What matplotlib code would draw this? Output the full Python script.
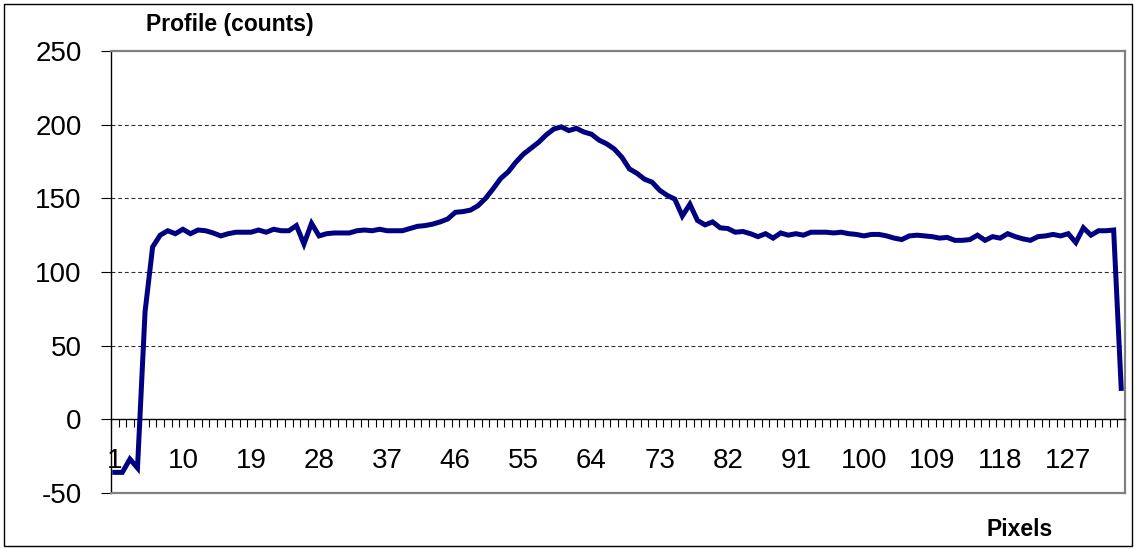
import numpy as np
import matplotlib
matplotlib.use("Agg")
import matplotlib.pyplot as plt
from matplotlib.patches import Rectangle

plt.rcParams['font.family'] = ['Liberation Sans', 'DejaVu Sans']

# ---- data ----
pixels = list(range(1, 135))
profile = [
    -36, -36, -27, -33, 73, 117, 125, 128, 126, 129,
    126, 128.5, 128, 126.5, 124.5, 126, 127, 127, 127, 128.5,
    127, 129, 128, 128, 131.5, 119, 133, 124.5, 126, 126.5,
    126.5, 126.5, 128, 128.5, 128, 129, 128, 128, 128, 129.5,
    131, 131.5, 132.5, 134, 136, 140.5, 141, 142, 145, 150,
    156.5, 163.5, 168, 174.5, 180, 184, 188, 193, 197, 198.5,
    196, 197.5, 195, 193.5, 189.5, 187, 183.5, 178, 170, 167,
    163, 161, 155.5, 152, 149.5, 138, 146, 135, 132, 134,
    130, 129.5, 127, 127.5, 126, 124, 126, 123, 126.5, 125,
    126, 125, 127, 127, 127, 126.5, 127, 126, 125.5, 124.5,
    125.5, 125.5, 124.5, 123, 122, 124.5, 125, 124.5, 124, 123,
    123.5, 121.5, 121.5, 122, 125, 121.5, 124, 123, 126, 124,
    122.5, 121.5, 124, 124.5, 125.5, 124.5, 126, 120, 130, 125,
    128, 128, 128.5, 21,
]
x_labels = [1, 10, 19, 28, 37, 46, 55, 64, 73, 82, 91, 100, 109, 118, 127]
y_ticks = [-50, 0, 50, 100, 150, 200, 250]

W, H = 1136, 549
fig = plt.figure(figsize=(W / 100, H / 100), dpi=100)
ax = fig.add_axes([111 / W, 1 - 493 / H, (1125 - 111) / W, (493 - 51) / H])

ax.plot(pixels, profile, color='#000080', lw=3.6, solid_joinstyle='miter',
        zorder=5, clip_on=False)

n = len(pixels)
ax.set_xlim(0.5, n + 0.5)
ax.set_ylim(-50, 250)

# spines
ax.spines['bottom'].set_position(('data', 0))
ax.spines['bottom'].set_color('black')
ax.spines['bottom'].set_linewidth(1.0)
ax.spines['left'].set_color('black')
ax.spines['left'].set_linewidth(1.0)
for s in ('top', 'right'):
    ax.spines[s].set_color('#808080')
    ax.spines[s].set_linewidth(1.6)
ax.plot([0, 1], [0, 0], transform=ax.transAxes, color='#808080', lw=1.6,
        clip_on=False, zorder=3)

# x ticks: marks between categories, labels every 9th category
ax.set_xticks(np.arange(0.5, n + 0.6, 1.0))
ax.set_xticklabels([])
ax.tick_params(axis='x', which='major', direction='out', length=5.5,
               width=0.8, color='black')
ax.set_xticks(x_labels, minor=True)
ax.set_xticklabels([str(v) for v in x_labels], minor=True)
ax.tick_params(axis='x', which='minor', length=0, pad=21, labelsize=20)

# y ticks
ax.set_yticks(y_ticks)
ax.set_yticklabels([str(v) for v in y_ticks])
ax.tick_params(axis='y', direction='out', length=7, width=0.8, pad=14,
               labelsize=20)

# gridlines
for yv in [50, 100, 150, 200]:
    ax.axhline(yv, color='#303030', lw=0.8, ls=(0, (3.5, 2.5)), zorder=1)

fig.text(230 / W, 1 - 24 / H, 'Profile (counts)', fontsize=16.5,
         fontweight='bold', ha='center', va='center')
fig.text(1020 / W, 1 - 530 / H, 'Pixels', fontsize=16.5, fontweight='bold',
         ha='center', va='center')

fig.patches.append(Rectangle((4 / W, 3 / H), (W - 8) / W, (H - 7) / H,
                             transform=fig.transFigure, fill=False,
                             edgecolor='black', lw=1.0))

fig.savefig('out.png', dpi=100)
